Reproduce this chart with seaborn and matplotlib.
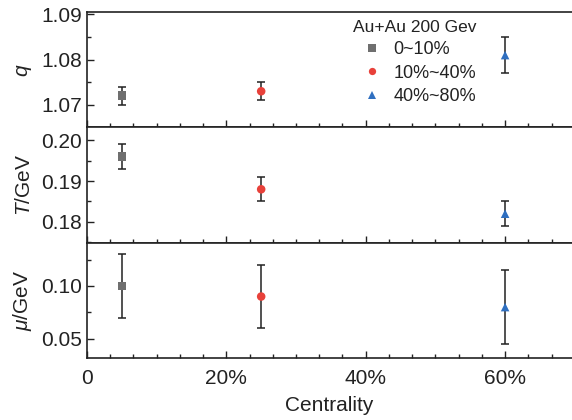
import matplotlib
matplotlib.use("Agg")
import matplotlib.pyplot as plt
from matplotlib.ticker import MultipleLocator, FuncFormatter
import seaborn as sns
import pandas as pd

# data
centrality = [5, 25, 60]
classes = ["0~10%", "10%~40%", "40%~80%"]
q_val = [1.072, 1.073, 1.081]
q_err = [0.002, 0.002, 0.004]
T_val = [0.196, 0.188, 0.182]
T_err = [0.003, 0.003, 0.003]
mu_val = [0.100, 0.090, 0.080]
mu_err = [0.030, 0.030, 0.035]

colors = ["#6f6f6f", "#e8413a", "#2f6fc0"]
markers = ["s", "o", "^"]

sns.set_style("ticks")
plt.rcParams["font.family"] = ["Liberation Sans", "DejaVu Sans"]
plt.rcParams["mathtext.fontset"] = "custom"
plt.rcParams["mathtext.it"] = "Liberation Sans:italic"
plt.rcParams["mathtext.rm"] = "Liberation Sans"
plt.rcParams["text.color"] = "#222222"
plt.rcParams["axes.labelcolor"] = "#222222"
plt.rcParams["xtick.labelcolor"] = "#222222"
plt.rcParams["ytick.labelcolor"] = "#222222"

fig, axes = plt.subplots(3, 1, figsize=(5.72, 4.2), dpi=100, sharex=True)
fig.subplots_adjust(left=0.152, right=1.0, top=0.971, bottom=0.148, hspace=0)

panels = [
    (q_val, q_err, "$q$", (1.065, 1.0905), 0.01, 0.005, "{:.2f}"),
    (T_val, T_err, "$T$/GeV", (0.1749, 0.2032), 0.01, 0.005, "{:.2f}"),
    (mu_val, mu_err, "$\\mu$/GeV", (0.032, 0.141), 0.05, 0.025, "{:.2f}"),
]

for i, (ax, (vals, errs, label, ylim, major, minor, fmt)) in enumerate(zip(axes, panels)):
    df = pd.DataFrame({"x": centrality, "y": vals, "cls": classes})
    ax.errorbar(centrality, vals, yerr=errs, fmt="none", ecolor="#222222",
                elinewidth=1.1, capsize=2.6, capthick=1.1, zorder=2)
    sns.scatterplot(data=df, x="x", y="y", hue="cls", style="cls",
                    palette=colors, markers=markers, s=38, linewidth=0,
                    ax=ax, zorder=3, legend=(i == 0))
    ax.set_ylim(*ylim)
    ax.set_xlim(0, 69.6)
    ax.yaxis.set_major_locator(MultipleLocator(major))
    ax.yaxis.set_minor_locator(MultipleLocator(minor))
    ax.yaxis.set_major_formatter(FuncFormatter(lambda v, p, f=fmt: f.format(v)))
    ax.xaxis.set_major_locator(MultipleLocator(20))
    ax.xaxis.set_minor_locator(MultipleLocator(20 / 6))
    ax.tick_params(axis="both", which="both", direction="in", color="#222222",
                   top=False, right=False)
    ax.tick_params(axis="both", which="major", length=5, width=1, labelsize=15)
    ax.tick_params(axis="x", which="major", pad=8)
    ax.tick_params(axis="both", which="minor", length=3, width=1)
    ax.set_ylabel(label, fontsize=15, labelpad=6)
    ax.yaxis.set_label_coords(-0.11, 0.5)
    ax.set_xlabel("")
    for s in ax.spines.values():
        s.set_linewidth(1.2)
        s.set_color("#222222")
    ax.spines["right"].set_visible(False)

axes[0].get_legend().remove()
handles, labels = axes[0].get_legend_handles_labels()
leg = axes[0].legend(handles, labels, title="Au+Au 200 Gev", frameon=False,
                     loc="upper left", bbox_to_anchor=(0.515, 1.075),
                     fontsize=13, title_fontsize=12.5, handletextpad=0.2,
                     labelspacing=0.36, markerscale=0.85)

axes[2].xaxis.set_major_formatter(
    FuncFormatter(lambda v, p: "0" if v == 0 else f"{v:.0f}%"))
axes[2].set_xlabel("Centrality", fontsize=15, labelpad=6)

fig.savefig("out.png", dpi=100)
